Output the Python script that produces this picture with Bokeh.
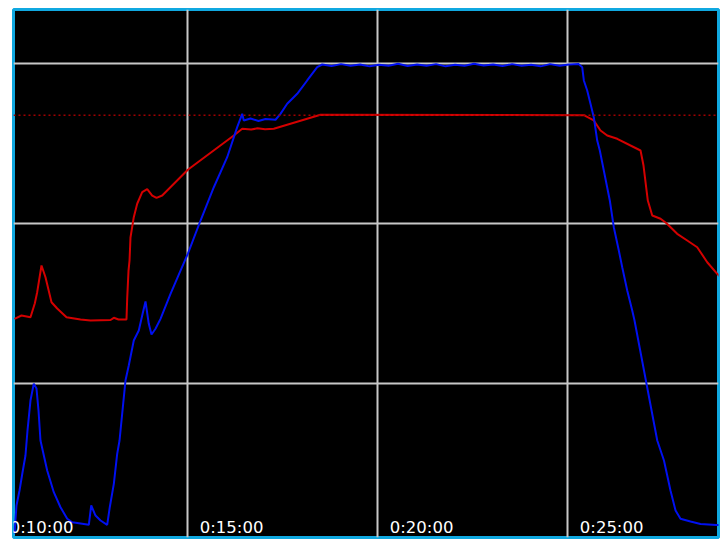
from bokeh.plotting import figure
from bokeh.models import Range1d, Grid, FixedTicker, Span, ColumnDataSource
from bokeh.core.properties import value
from bokeh.embed import file_html
from bokeh.resources import INLINE

# ---- data (time in seconds, values in arbitrary % units) ----
red_t = [626.4, 637.4, 651.6, 658.4, 662.2, 669.0, 675.3, 684.8, 693.8, 708.5,
         730.6, 746.4, 778.0, 783.2, 790.6, 803.2, 804.3, 806.4, 808.0, 809.5,
         814.7, 820.1, 828.0, 835.9, 843.8, 850.6, 859.6, 900.0, 972.6, 985.9,
         1000.0, 1010.0, 1022.0, 1035.8, 1109.5, 1525.3, 1541.0, 1551.6, 1562.2,
         1578.0, 1599.0, 1614.8, 1619.5, 1624.3, 1626.3, 1633.3, 1646.4, 1655.8,
         1672.7, 1688.5, 1704.3, 1720.1, 1735.9, 1745.0]
red_v = [35.08, 35.60, 35.33, 37.48, 39.25, 43.43, 41.59, 37.68, 36.70, 35.33,
         34.97, 34.82, 34.90, 35.24, 34.97, 34.97, 38.26, 42.64, 44.21, 47.81,
         50.99, 53.09, 54.90, 55.37, 54.38, 54.02, 54.38, 58.41, 63.78, 64.83,
         64.70, 64.90, 64.75, 64.83, 67.02, 66.95, 66.13, 64.56, 63.78,
         63.26, 62.21, 61.43, 59.08, 55.17, 53.60, 51.25, 50.74, 50.05,
         48.39, 47.34, 46.29, 43.94, 42.13, 41.20]

blue_t = [626.4, 629.5, 634.3, 639.0, 643.7, 646.9, 651.6, 656.8, 661.1, 664.3,
          667.4, 678.0, 688.4, 699.0, 709.6, 717.5, 743.7, 747.5, 754.3, 762.2,
          772.7, 776.8, 783.2, 788.5, 792.2, 801.6, 806.8, 814.7, 822.6, 828.0,
          833.2, 838.4, 842.7, 849.0, 856.9, 872.7, 888.5, 900.0, 920.1, 941.1,
          962.2, 978.0, 985.9, 988.4, 999.0, 1011.6, 1022.7, 1038.5, 1046.3, 1056.9,
          1072.7, 1088.5, 1104.3, 1112.2, 1127.0, 1142.0, 1157.0, 1172.0, 1187.0,
          1202.0, 1217.0, 1232.0, 1247.0, 1262.0, 1277.0, 1292.0, 1307.0, 1322.0,
          1337.0, 1352.0, 1367.0, 1382.0, 1397.0, 1412.0, 1427.0, 1442.0, 1457.0,
          1472.0, 1487.0, 1502.0, 1517.3, 1522.7, 1525.3, 1530.6, 1535.8, 1541.0,
          1546.4, 1550.5, 1566.3, 1572.6, 1580.5, 1585.9, 1593.8, 1601.7, 1605.3,
          1641.2, 1651.8, 1662.1, 1670.1, 1677.9, 1693.7, 1709.5, 1734.4, 1745.0]
blue_v = [1.47, 5.86, 8.21, 11.02, 13.68, 17.60, 22.29, 24.91, 24.17, 20.73,
          16.03, 11.34, 7.94, 5.59, 3.78, 3.24, 2.84, 5.86, 4.29, 3.51,
          2.84, 5.59, 9.25, 13.95, 16.03, 25.42, 27.77, 31.69, 33.25, 35.60,
          37.79, 34.30, 32.63, 33.52, 35.08, 39.00, 42.64, 45.26, 50.47, 55.68,
          60.38, 65.08, 67.17, 66.13, 66.44, 66.05, 66.36, 66.24, 67.17, 68.74,
          70.30, 72.39, 74.47, 74.89, 74.65, 74.95, 74.70, 74.90, 74.60,
          74.85, 74.70, 75.00, 74.65, 74.90, 74.70, 74.95, 74.60, 74.85,
          74.70, 75.00, 74.75, 74.90, 74.65, 74.95, 74.70, 74.85, 74.60,
          74.95, 74.70, 74.90, 74.95, 74.47, 72.39, 70.82, 68.74, 66.64,
          62.99, 61.43, 53.60, 49.42, 45.77, 43.16, 39.51, 36.38, 34.82,
          16.03, 12.90, 8.21, 5.07, 3.78, 3.35, 2.96, 2.80, 2.78]

setpoint = 66.95
tick_times = [600, 900, 1200, 1500]
tick_labels = ["0:10:00", "0:15:00", "0:20:00", "0:25:00"]
y_grid = [25, 50, 75]

x_start, x_end = 624.8, 1737.9
y_start, y_end = 0.85, 83.5

p = figure(width=721, height=539, output_backend="svg", toolbar_location=None,
           x_axis_type=None, y_axis_type=None,
           x_range=Range1d(x_start, x_end), y_range=Range1d(y_start, y_end),
           min_border_left=13, min_border_right=3, min_border_top=9, min_border_bottom=2)
p.background_fill_color = "black"
p.border_fill_color = "white"
p.outline_line_color = "#10a8e0"
p.outline_line_width = 3

p.add_layout(Grid(dimension=0, ticker=FixedTicker(ticks=tick_times),
                  grid_line_color="#c8c8c8", grid_line_width=2))
p.add_layout(Grid(dimension=1, ticker=FixedTicker(ticks=y_grid),
                  grid_line_color="#c8c8c8", grid_line_width=2))

p.add_layout(Span(location=setpoint, dimension="width", line_color="#a00000",
                  line_width=1.5, line_dash="2 3"))

p.line(red_t, red_v, line_color="#d40000", line_width=2)
p.line(blue_t, blue_v, line_color="#0010f0", line_width=2)

lab = ColumnDataSource(dict(x=tick_times, y=[y_start] * len(tick_times), text=tick_labels))
p.text(x="x", y="y", text="text", source=lab, x_offset=12, y_offset=-1,
       text_font=value("DejaVu Sans"), text_font_size="16.5px", text_color="white",
       text_baseline="bottom", text_align="left")

open("out.html", "w").write(file_html(p, INLINE))
